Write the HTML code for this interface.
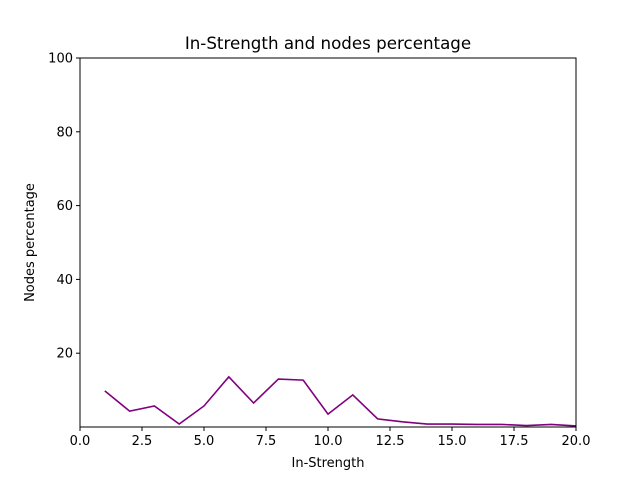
<!DOCTYPE html>
<html><head><meta charset="utf-8"><style>body{margin:0;background:#fff}svg{display:block;font-family:"DejaVu Sans","Liberation Sans",sans-serif}</style></head>
<body>
<svg id="chart" width="640" height="480">
<text x="328" y="49" text-anchor="middle" font-size="16.7">In-Strength and nodes percentage</text>
<text x="328" y="467" text-anchor="middle" font-size="13">In-Strength</text>
<text transform="translate(34,242.5) rotate(-90)" text-anchor="middle" font-size="13">Nodes percentage</text>
<g id="ticks"></g>
<path id="line" fill="none" stroke="purple" stroke-width="1.6"></path>
<rect x="80" y="58" width="496" height="369" fill="none" stroke="#000" stroke-width="1"/>
</svg>
<script>
const xValues=[1,2,3,4,5,6,7,8,9,10,11,12,13,14,15,16,17,18,19,20];
const yValues=[9.8,4.3,5.7,0.8,5.7,13.6,6.5,13.0,12.7,3.5,8.7,2.2,1.4,0.8,0.8,0.7,0.7,0.4,0.7,0.3];
const xTicks=[0,2.5,5,7.5,10,12.5,15,17.5,20];
const xTickLabels=["0.0","2.5","5.0","7.5","10.0","12.5","15.0","17.5","20.0"];
const yTicks=[20,40,60,80,100];
const yTickLabels=["20","40","60","80","100"];
const X0=80,X1=576,Y0=427,Y1=58,xmin=0,xmax=20,ymin=0,ymax=100;
const sx=v=>X0+(v-xmin)/(xmax-xmin)*(X1-X0);
const sy=v=>Y0-(v-ymin)/(ymax-ymin)*(Y0-Y1);
const NS="http://www.w3.org/2000/svg";
const g=document.getElementById('ticks');
xTicks.forEach((t,i)=>{
  const l=document.createElementNS(NS,'line');
  l.setAttribute('x1',sx(t));l.setAttribute('x2',sx(t));l.setAttribute('y1',Y0);l.setAttribute('y2',Y0+4);l.setAttribute('stroke','#000');
  
  
  g.appendChild(l);
  const tx=document.createElementNS(NS,'text');
  tx.setAttribute('x',sx(t));tx.setAttribute('y',Y0+18);tx.setAttribute('text-anchor','middle');tx.setAttribute('font-size','13');
  tx.textContent=xTickLabels[i];
  
  
  g.appendChild(tx);
});
yTicks.forEach((t,i)=>{
  const l=document.createElementNS(NS,'line');
  l.setAttribute('x1',X0-4);l.setAttribute('x2',X0);l.setAttribute('y1',sy(t));l.setAttribute('y2',sy(t));l.setAttribute('stroke','#000');
  
  
  g.appendChild(l);
  const tx=document.createElementNS(NS,'text');
  tx.setAttribute('x',X0-7);tx.setAttribute('y',sy(t)+4.5);tx.setAttribute('text-anchor','end');tx.setAttribute('font-size','13');
  tx.textContent=yTickLabels[i];
  
  
  g.appendChild(tx);
});
document.getElementById('line').setAttribute('d',xValues.map((x,i)=>(i?'L':'M')+sx(x)+' '+sy(yValues[i])).join(' '));
</script>
</body></html>
